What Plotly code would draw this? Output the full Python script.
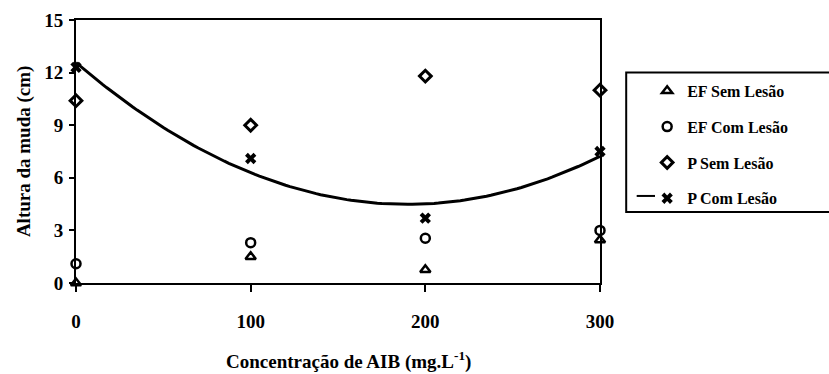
import numpy as np
import plotly.graph_objects as go

# Concentração de AIB (mg.L-1)
conc = [0, 100, 200, 300]

# Altura da muda (cm) por tratamento
ef_sem_lesao = [0.0, 1.5, 0.75, 2.45]
ef_com_lesao = [1.1, 2.3, 2.55, 3.0]
p_sem_lesao = [10.4, 9.0, 11.8, 11.0]
p_com_lesao = [12.3, 7.1, 3.7, 7.5]

y_ticks = [0, 3, 6, 9, 12, 15]
x_ticks = [0, 100, 200, 300]

FONT = "Liberation Serif"

# Ajuste quadrático para P Com Lesão
coef = np.polyfit(conc, p_com_lesao, 2)
xs = np.linspace(0, 300, 121)
ys = np.polyval(coef, xs)

fig = go.Figure()

fig.add_trace(go.Scatter(
    x=xs, y=ys, mode="lines", showlegend=False,
    line=dict(color="black", width=3), hoverinfo="skip", cliponaxis=False))

series = [
    ("EF Sem Lesão", ef_sem_lesao, "triangle-up-open", 9, 2.5),
    ("EF Com Lesão", ef_com_lesao, "circle-open", 9, 2.5),
    ("P Sem Lesão", p_sem_lesao, "diamond-open", 9, 3),
    ("P Com Lesão", p_com_lesao, "x", 10, 0),
]
for i, (name, vals, sym, size, lw) in enumerate(series):
    fig.add_trace(go.Scatter(
        x=conc, y=vals, mode="markers", name=name, legendgroup=f"g{i}",
        cliponaxis=False,
        marker=dict(symbol=sym, size=size, color="black",
                    line=dict(color="black", width=lw))))

axis_common = dict(
    showline=True, linecolor="black", linewidth=2, mirror=True,
    showgrid=False, zeroline=False, ticks="outside", tickcolor="black",
    tickwidth=2, automargin=False,
    tickfont=dict(family=FONT, size=19, color="black", weight="bold"),
)

fig.update_xaxes(range=[0, 300], tickvals=x_ticks, ticklen=7,
                 ticklabelstandoff=13, **axis_common)
fig.update_yaxes(range=[0, 15], tickvals=y_ticks, ticklen=5,
                 ticklabelstandoff=2, **axis_common)

# Títulos dos eixos
fig.add_annotation(
    text="<b>Concentração de AIB (mg.L<sup>-1</sup>)</b>",
    xref="paper", yref="paper", x=0.52, y=-0.293,
    xanchor="center", yanchor="middle", showarrow=False,
    font=dict(family=FONT, size=19, color="black"))
fig.add_annotation(
    text="<b>Altura da muda (cm)</b>",
    xref="paper", yref="paper", x=-0.1, y=0.5, textangle=-90,
    xanchor="center", yanchor="middle", showarrow=False,
    font=dict(family=FONT, size=19, color="black"))

# Moldura da legenda e traço da curva ajustada
fig.add_shape(type="rect", xref="paper", yref="paper",
              x0=1.05, x1=1.6, y0=0.27, y1=0.80,
              line=dict(color="black", width=2), layer="above")
fig.add_shape(type="line", xref="paper", yref="paper",
              x0=1.07, x1=1.105, y0=0.331, y1=0.331,
              line=dict(color="black", width=2))

fig.update_layout(
    width=829, height=374,
    margin=dict(l=76, r=229, t=20, b=91),
    paper_bgcolor="white", plot_bgcolor="white",
    font=dict(family=FONT, color="black"),
    legend=dict(x=1.09, y=0.795, xanchor="left", yanchor="top",
                font=dict(family=FONT, size=16, color="black", weight="bold"),
                bgcolor="rgba(0,0,0,0)", borderwidth=0,
                tracegroupgap=12, itemwidth=30),
)

fig.write_html("out.html")
